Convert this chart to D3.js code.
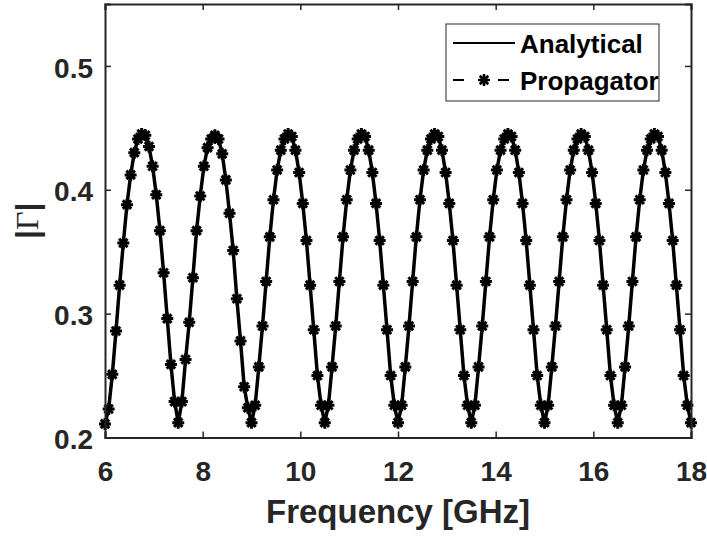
<!DOCTYPE html>
<html>
<head>
<meta charset="utf-8">
<script src="https://cdnjs.cloudflare.com/ajax/libs/d3/7.8.5/d3.min.js"></script>
<style>
  body { margin: 0; background: #fff; }
  text { font-family: 'Liberation Sans', Arial, Helvetica, sans-serif; font-weight: bold; fill: #262626; }
</style>
</head>
<body>
<div class="chart"></div>
<script>
// frequency samples [GHz]
const freq = [
  6, 6.075, 6.15, 6.225, 6.3, 6.375, 6.45, 6.525, 6.6, 6.675, 6.75, 6.825, 6.9, 6.975, 7.05, 7.125, 7.2, 7.275, 7.35, 7.425,
  7.5, 7.575, 7.65, 7.725, 7.8, 7.875, 7.95, 8.025, 8.1, 8.175, 8.25, 8.325, 8.4, 8.475, 8.55, 8.625, 8.7, 8.775, 8.85, 8.925,
  9, 9.075, 9.15, 9.225, 9.3, 9.375, 9.45, 9.525, 9.6, 9.675, 9.75, 9.825, 9.9, 9.975, 10.05, 10.125, 10.2, 10.275, 10.35, 10.425,
  10.5, 10.575, 10.65, 10.725, 10.8, 10.875, 10.95, 11.025, 11.1, 11.175, 11.25, 11.325, 11.4, 11.475, 11.55, 11.625, 11.7, 11.775, 11.85, 11.925,
  12, 12.075, 12.15, 12.225, 12.3, 12.375, 12.45, 12.525, 12.6, 12.675, 12.75, 12.825, 12.9, 12.975, 13.05, 13.125, 13.2, 13.275, 13.35, 13.425,
  13.5, 13.575, 13.65, 13.725, 13.8, 13.875, 13.95, 14.025, 14.1, 14.175, 14.25, 14.325, 14.4, 14.475, 14.55, 14.625, 14.7, 14.775, 14.85, 14.925,
  15, 15.075, 15.15, 15.225, 15.3, 15.375, 15.45, 15.525, 15.6, 15.675, 15.75, 15.825, 15.9, 15.975, 16.05, 16.125, 16.2, 16.275, 16.35, 16.425,
  16.5, 16.575, 16.65, 16.725, 16.8, 16.875, 16.95, 17.025, 17.1, 17.175, 17.25, 17.325, 17.4, 17.475, 17.55, 17.625, 17.7, 17.775, 17.85, 17.925,
  18
]

// |Gamma|, analytical solution
const analytical = [
  0.211, 0.223, 0.251, 0.286, 0.323, 0.357, 0.388, 0.412, 0.430, 0.441, 0.445, 0.444, 0.435, 0.419, 0.396, 0.367, 0.333, 0.296, 0.259, 0.229,
  0.212, 0.229, 0.263, 0.293, 0.329, 0.367, 0.395, 0.419, 0.434, 0.441, 0.444, 0.441, 0.429, 0.408, 0.381, 0.351, 0.312, 0.278, 0.241, 0.224,
  0.212, 0.226, 0.257, 0.290, 0.326, 0.362, 0.392, 0.416, 0.432, 0.441, 0.445, 0.443, 0.432, 0.414, 0.389, 0.359, 0.323, 0.287, 0.250, 0.226,
  0.212, 0.226, 0.257, 0.290, 0.326, 0.362, 0.392, 0.416, 0.432, 0.441, 0.445, 0.443, 0.432, 0.414, 0.389, 0.359, 0.323, 0.287, 0.250, 0.226,
  0.212, 0.226, 0.257, 0.290, 0.326, 0.362, 0.392, 0.416, 0.432, 0.441, 0.445, 0.443, 0.432, 0.414, 0.389, 0.359, 0.323, 0.287, 0.250, 0.226,
  0.212, 0.226, 0.257, 0.290, 0.326, 0.362, 0.392, 0.416, 0.432, 0.441, 0.445, 0.443, 0.432, 0.414, 0.389, 0.359, 0.323, 0.287, 0.250, 0.226,
  0.212, 0.226, 0.257, 0.290, 0.326, 0.362, 0.392, 0.416, 0.432, 0.441, 0.445, 0.443, 0.432, 0.414, 0.389, 0.359, 0.323, 0.287, 0.250, 0.226,
  0.212, 0.226, 0.257, 0.290, 0.326, 0.362, 0.392, 0.416, 0.432, 0.441, 0.445, 0.443, 0.432, 0.414, 0.389, 0.359, 0.323, 0.287, 0.250, 0.226,
  0.212
]

// propagator result sits on top of the analytical curve
const propagator = analytical

const xTicks = [6, 8, 10, 12, 14, 16, 18]
const yTicks = [0.2, 0.3, 0.4, 0.5]
const seriesNames = ['Analytical', 'Propagator']

const width = 707
const height = 536
const margin = { top: 4, right: 16, bottom: 98.5, left: 105 }
const plotW = width - margin.left - margin.right
const plotH = height - margin.top - margin.bottom
const axisColor = '#262626'

const xScale = d3.scaleLinear().domain([6, 18]).range([0, plotW])
const yScale = d3.scaleLinear().domain([0.2, 0.55]).range([plotH, 0])

const svg = d3.select('.chart')
  .append('svg')
  .attr('width', width)
  .attr('height', height)

const g = svg.append('g')
  .attr('transform', 'translate(' + margin.left + ',' + margin.top + ')')

svg.append('defs').append('clipPath')
  .attr('id', 'clip')
  .append('rect')
  .attr('width', plotW)
  .attr('height', plotH)

// asterisk marker like matlab '*'
const r = 6
const k = r * 0.7071
const star = 'M' + (-r) + ',0L' + r + ',0M0,' + (-r) + 'L0,' + r +
  'M' + (-k) + ',' + (-k) + 'L' + k + ',' + k + 'M' + (-k) + ',' + k + 'L' + k + ',' + (-k)

const line = d3.line()
  .x((d, i) => xScale(freq[i]))
  .y(d => yScale(d))

const plot = g.append('g').attr('clip-path', 'url(#clip)')

plot.append('path')
  .datum(propagator)
  .attr('d', line)
  .attr('fill', 'none')
  .attr('stroke', '#000')
  .attr('stroke-width', 2)
  .attr('stroke-dasharray', '11,34')

plot.append('path')
  .datum(analytical)
  .attr('d', line)
  .attr('fill', 'none')
  .attr('stroke', '#000')
  .attr('stroke-width', 3.5)

g.append('g')
  .selectAll('path')
  .data(propagator)
  .enter()
  .append('path')
  .attr('d', star)
  .attr('transform', (d, i) => 'translate(' + xScale(freq[i]) + ',' + yScale(d) + ')')
  .attr('stroke', '#000')
  .attr('stroke-width', 3)
  .attr('fill', 'none')

// axes, box with inward ticks
const tickLen = 6
const xAxis = d3.axisBottom(xScale).tickValues(xTicks).tickSize(-tickLen).tickPadding(24).tickFormat(d3.format('d'))
const xAxisTop = d3.axisTop(xScale).tickValues(xTicks).tickSize(-tickLen).tickFormat('')
const yAxis = d3.axisLeft(yScale).tickValues(yTicks).tickSize(-tickLen).tickPadding(12).tickFormat(d3.format('.1f'))
const yAxisRight = d3.axisRight(yScale).tickValues(yTicks).tickSize(-tickLen).tickFormat('')

const axes = [
  g.append('g').attr('transform', 'translate(0,' + plotH + ')').call(xAxis),
  g.append('g').call(xAxisTop),
  g.append('g').call(yAxis),
  g.append('g').attr('transform', 'translate(' + plotW + ',0)').call(yAxisRight)
]

axes.forEach(a => {
  a.select('.domain').attr('stroke', axisColor).attr('stroke-width', 2)
  a.selectAll('.tick line').attr('stroke', axisColor).attr('stroke-width', 1.5)
  a.selectAll('.tick text')
    .style('font-size', '28px')
    .style('font-family', "'Liberation Sans', Arial, sans-serif")
    .style('font-weight', 'bold')
    .attr('fill', axisColor)
})
axes[2].selectAll('.tick text').attr('dy', '0.4em')

// axis labels
svg.append('text')
  .attr('x', margin.left + plotW / 2)
  .attr('y', 523)
  .attr('text-anchor', 'middle')
  .style('font-size', '33px')
  .text('Frequency [GHz]')

const yLabel = svg.append('text')
  .attr('transform', 'translate(38,' + (margin.top + plotH / 2) + ') rotate(-90)')
  .attr('text-anchor', 'middle')
  .style('font-size', '32px')
yLabel.append('tspan').text('|')
yLabel.append('tspan')
  .style('font-family', "'Liberation Serif', 'Times New Roman', serif")
  .style('font-weight', 'normal')
  .text('Γ')
yLabel.append('tspan').text('|')

// legend
const legend = svg.append('g').attr('transform', 'translate(446,24)')

legend.append('rect')
  .attr('width', 213)
  .attr('height', 77)
  .attr('fill', '#fff')
  .attr('stroke', axisColor)
  .attr('stroke-width', 1)

const rows = legend.selectAll('.row')
  .data(seriesNames)
  .enter()
  .append('g')
  .attr('class', 'row')
  .attr('transform', (d, i) => 'translate(0,' + (19 + i * 37) + ')')

rows.append('line')
  .attr('x1', 7)
  .attr('x2', 69)
  .attr('stroke', '#000')
  .attr('stroke-width', 2)
  .attr('stroke-dasharray', (d, i) => i === 0 ? null : '11,34')

rows.filter((d, i) => i === 1)
  .append('path')
  .attr('d', star)
  .attr('transform', 'translate(38,0)')
  .attr('stroke', '#000')
  .attr('stroke-width', 2.6)
  .attr('fill', 'none')

rows.append('text')
  .attr('x', 74)
  .attr('y', 10)
  .style('font-size', '26px')
  .style('fill', '#000')
  .text(d => d)
</script>
</body>
</html>
